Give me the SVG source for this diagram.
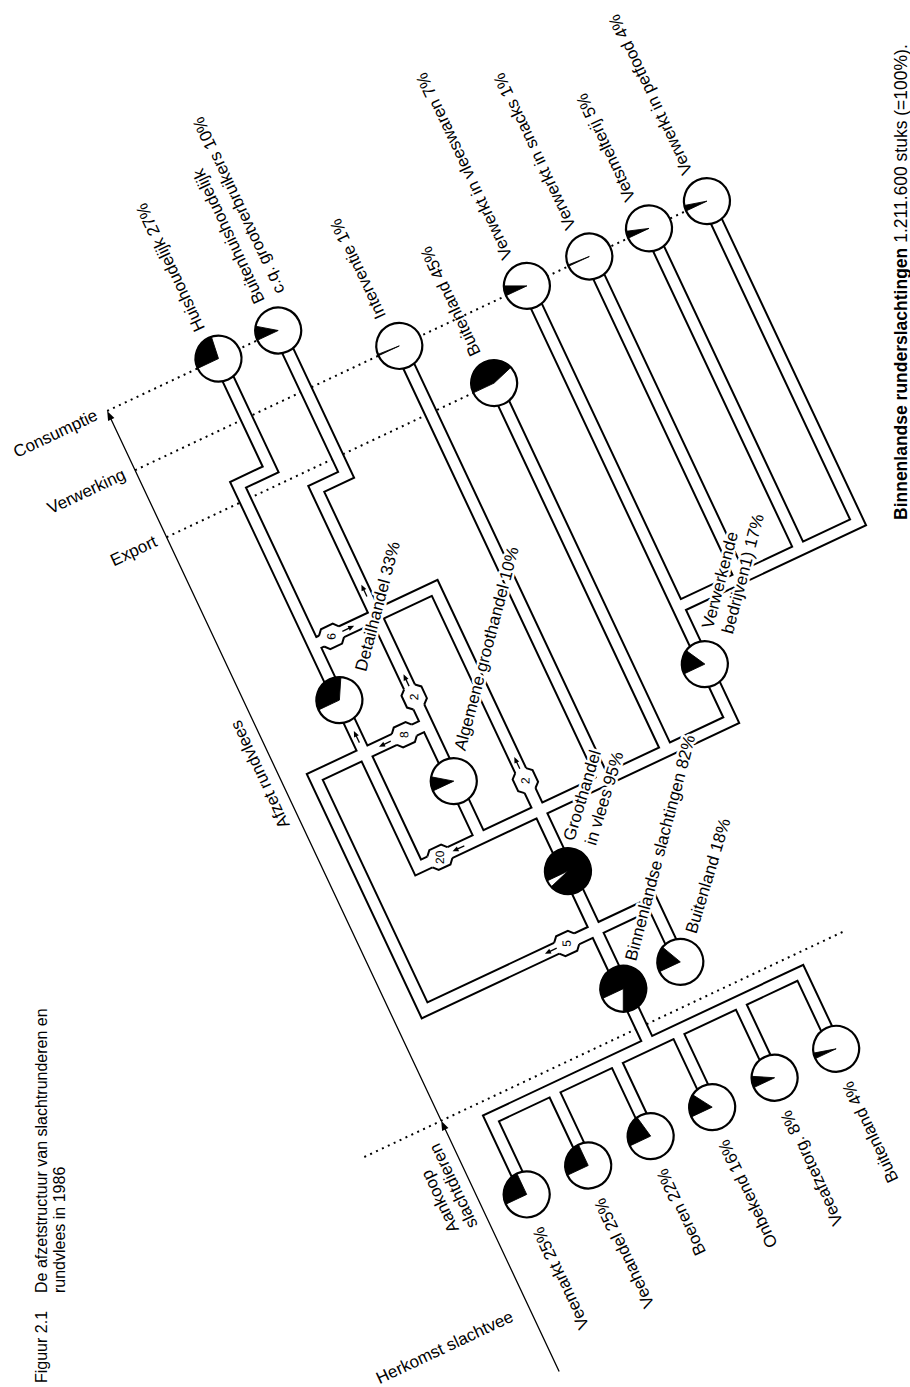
<svg xmlns="http://www.w3.org/2000/svg" width="910" height="1387" viewBox="0 0 910 1387">
<style>
text{font-family:"Liberation Sans",Arial,Helvetica,sans-serif;fill:#000}
.lb{font-size:17px}
.h{stroke:#fff;stroke-width:5;paint-order:stroke;stroke-linejoin:round}
.pb{fill:none;stroke:#000;stroke-width:14}
.pw{fill:none;stroke:#fff;stroke-width:10}
.dot{fill:none;stroke:#000;stroke-width:2;stroke-dasharray:2 4.5}
.ax{fill:none;stroke:#000;stroke-width:1.3}
.c{fill:#fff;stroke:#000;stroke-width:2.2}
.w{fill:#000;stroke:#000;stroke-width:0.8}
.n{font-size:12px}
.mkw{fill:#fff}
.mkl{fill:none;stroke:#000;stroke-width:2}
</style>
<defs>
<path id="pipes" d="M45,417.5V540H9V778 M111,417.5V577H78V900 M9,717H143V1160 M143,1095H-46V837H78 M9,778V963H355V483 M78,900V963 M214,483V963 M284,557V963 M355,838H554V483 M424,483V838 M490,483V838 M143,1095H206V1160 M143,1160V1221 M-32,1305V1221H310V1305 M36,1221V1305 M105,1221V1305 M173,1221V1305 M242,1221V1305"/>
<g id="mk">
<polygon class="mkw" points="-11,-7.2 -6.5,-11 6.5,-11 11,-7.2 11,7.2 6.5,11 -6.5,11 -11,7.2"/>
<polyline class="mkl" points="-11,-6 -6.5,-11 6.5,-11 11,-6"/>
<polyline class="mkl" points="-11,6 -6.5,11 6.5,11 11,6"/>
</g>
<g id="ar">
<path d="M-6,0H2" stroke="#000" stroke-width="1.3" fill="none"/>
<path d="M1,-2.6L7,0L1,2.6Z" fill="#000"/>
</g>
</defs>

<g id="caption" class="lb">
<text transform="translate(47,1383) rotate(-90)" font-size="16">Figuur 2.1</text>
<text transform="translate(47,1293) rotate(-90)" font-size="16">De afzetstructuur van slachtrunderen en</text>
<text transform="translate(65,1293) rotate(-90)" font-size="16">rundvlees in 1986</text>
</g>
<g id="footnote">
<text transform="translate(907,520) rotate(-90)" font-size="17.5"><tspan font-weight="bold">Binnenlandse runderslachtingen</tspan> 1.211.600 stuks (=100%).</text>
</g>

<g id="diagram" transform="rotate(-25.2)">
<g id="levels">
<path class="dot" d="M-78,417.5H111 M-78,483H554 M-78,557H284 M-163,1202H370"/>
<path class="ax" d="M-78,1202V423 M-78,1479V1207"/>
<polygon points="-78,417.5 -81.5,427 -74.5,427"/>
<polygon points="-78,1202 -81.5,1211.5 -74.5,1211.5"/>
<g class="lb">
<text x="-89" y="421.5" text-anchor="end">Consumptie</text>
<text x="-89" y="487" text-anchor="end">Verwerking</text>
<text x="-89" y="561" text-anchor="end">Export</text>
<text transform="translate(-89,870) rotate(-90)">Afzet rundvlees</text>
<text x="-246" y="1414">Herkomst slachtvee</text>
<text transform="translate(-108,1308) rotate(-90)">Aankoop</text>
<text transform="translate(-89,1312) rotate(-90)">slachtdieren</text>
</g>
</g>

<g id="connectors">
<use href="#pipes" class="pb"/>
<use href="#pipes" class="pw"/>
<use href="#mk" transform="translate(29,717)"/>
<use href="#mk" transform="translate(78,807) rotate(90)"/>
<use href="#mk" transform="translate(53,837)"/>
<use href="#mk" transform="translate(143,930) rotate(90)"/>
<use href="#mk" transform="translate(33,963)"/>
<use href="#mk" transform="translate(111,1095)"/>
<g class="n" text-anchor="middle" dominant-baseline="central">
<text transform="translate(29,717) rotate(-65)">6</text>
<text transform="translate(78,807) rotate(-65)">2</text>
<text transform="translate(53,837) rotate(-65)">8</text>
<text transform="translate(143,930) rotate(-65)">2</text>
<text transform="translate(33,963) rotate(-65)">20</text>
<text transform="translate(111,1095) rotate(-65)">5</text>
</g>
<use href="#ar" transform="translate(47,717)"/>
<use href="#ar" transform="translate(78,789) rotate(-90)"/>
<use href="#ar" transform="translate(32,837) rotate(180)"/>
<use href="#ar" transform="translate(143,911) rotate(-90)"/>
<use href="#ar" transform="translate(54,963) rotate(180)"/>
<use href="#ar" transform="translate(94,1095) rotate(180)"/>
<use href="#ar" transform="translate(78,690) rotate(-90)"/>
<use href="#ar" transform="translate(9,819) rotate(-90)"/>
</g>

<g class="lb">
<g id="n-huishoudelijk"><circle class="c" cx="45" cy="417.5" r="23"/><path class="w" d="M45,417.5L22,417.5A23,23 0 0 1 47.88,394.68Z"/><text transform="translate(46,384.5) rotate(-90)">Huishoudelijk 27%</text></g>
<g id="n-buitenhuishoudelijk"><circle class="c" cx="111" cy="417.5" r="23"/><path class="w" d="M111,417.5L88,417.5A23,23 0 0 1 92.39,403.98Z"/><text transform="translate(112,384.5) rotate(-90)"><tspan x="0" y="0">Buitenhuishoudelijk</tspan><tspan x="0" y="22">c.q. grootverbruikers 10%</tspan></text></g>
<g id="n-interventie"><circle class="c" cx="214" cy="483" r="23"/><path class="w" d="M214,483L191,483A23,23 0 0 1 191.05,481.56Z"/><text transform="translate(215,450) rotate(-90)">Interventie 1%</text></g>
<g id="n-buitenland45"><circle class="c" cx="284" cy="557" r="23"/><path class="w" d="M284,557L261,557A23,23 0 0 1 305.88,549.89Z"/><text transform="translate(285,524) rotate(-90)">Buitenland 45%</text></g>
<g id="n-vleeswaren"><circle class="c" cx="355" cy="483" r="23"/><path class="w" d="M355,483L332,483A23,23 0 0 1 334.19,473.21Z"/><text transform="translate(355,450) rotate(-90)">Verwerkt in vleeswaren 7%</text></g>
<g id="n-snacks"><circle class="c" cx="424" cy="483" r="23"/><path class="w" d="M424,483L401,483A23,23 0 0 1 401.05,481.56Z"/><text transform="translate(425,450) rotate(-90)">Verwerkt in snacks 1%</text></g>
<g id="n-vetsmelterij"><circle class="c" cx="490" cy="483" r="23"/><path class="w" d="M490,483L467,483A23,23 0 0 1 468.12,475.89Z"/><text transform="translate(491,450) rotate(-90)">Vetsmelterij 5%</text></g>
<g id="n-petfood"><circle class="c" cx="554" cy="483" r="23"/><path class="w" d="M554,483L531,483A23,23 0 0 1 531.72,477.28Z"/><text transform="translate(554,450) rotate(-90)">Verwerkt in petfood 4%</text></g>

<g id="n-detailhandel"><circle class="c" cx="9" cy="778" r="23"/><path class="w" d="M9,778L-14,778A23,23 0 0 1 20.08,757.85Z"/><text class="h" transform="translate(45,764) rotate(-50)">Detailhandel 33%</text></g>
<g id="n-algemene-groothandel"><circle class="c" cx="78" cy="900" r="23"/><path class="w" d="M78,900L55,900A23,23 0 0 1 59.39,886.48Z"/><text class="h" transform="translate(101,878) rotate(-50)">Algemene groothandel 10%</text></g>
<g id="n-groothandel-vlees"><circle class="c" cx="143" cy="1030" r="23"/><path class="w" d="M143,1030L120,1030A23,23 0 1 1 121.12,1037.11Z"/><text class="h" transform="translate(161,1006) rotate(-48)"><tspan x="0" y="0">Groothandel</tspan><tspan x="2" y="22">in vlees 95%</tspan></text></g>
<g id="n-binnenlandse-slachtingen"><circle class="c" cx="143" cy="1160" r="23"/><path class="w" d="M143,1160L120,1160A23,23 0 1 1 133.21,1180.81Z"/><text class="h" transform="translate(166,1141) rotate(-50)">Binnenlandse slachtingen 82%</text></g>
<g id="n-buitenland18"><circle class="c" cx="206" cy="1160" r="23"/><path class="w" d="M206,1160L183,1160A23,23 0 0 1 196.21,1139.19Z"/><text class="h" transform="translate(232,1142) rotate(-48)">Buitenland 18%</text></g>
<g id="n-verwerkende-bedrijven"><circle class="c" cx="355" cy="901" r="23"/><path class="w" d="M355,901L332,901A23,23 0 0 1 343.92,880.85Z"/><text class="h" transform="translate(377,873) rotate(-50)"><tspan x="0" y="0">Verwerkende</tspan><tspan x="0" y="20.5">bedrijven1) 17%</tspan></text></g>

<g id="n-veemarkt"><circle class="c" cx="-32" cy="1305" r="23"/><path class="w" d="M-32,1305L-55,1305A23,23 0 0 1 -32,1282Z"/><text transform="translate(-31,1340) rotate(-90)" text-anchor="end">Veemarkt 25%</text></g>
<g id="n-veehandel"><circle class="c" cx="36" cy="1305" r="23"/><path class="w" d="M36,1305L13,1305A23,23 0 0 1 36,1282Z"/><text transform="translate(37,1340) rotate(-90)" text-anchor="end">Veehandel 25%</text></g>
<g id="n-boeren"><circle class="c" cx="105" cy="1305" r="23"/><path class="w" d="M105,1305L82,1305A23,23 0 0 1 100.69,1282.41Z"/><text transform="translate(106,1340) rotate(-90)" text-anchor="end">Boeren 22%</text></g>
<g id="n-onbekend"><circle class="c" cx="173" cy="1305" r="23"/><path class="w" d="M173,1305L150,1305A23,23 0 0 1 160.68,1285.58Z"/><text transform="translate(174,1340) rotate(-90)" text-anchor="end">Onbekend 16%</text></g>
<g id="n-veeafzetorg"><circle class="c" cx="242" cy="1305" r="23"/><path class="w" d="M242,1305L219,1305A23,23 0 0 1 221.85,1293.92Z"/><text transform="translate(243,1340) rotate(-90)" text-anchor="end">Veeafzetorg. 8%</text></g>
<g id="n-buitenland4"><circle class="c" cx="310" cy="1305" r="23"/><path class="w" d="M310,1305L287,1305A23,23 0 0 1 287.72,1299.28Z"/><text transform="translate(311,1340) rotate(-90)" text-anchor="end">Buitenland 4%</text></g>
</g>
</g>
</svg>
